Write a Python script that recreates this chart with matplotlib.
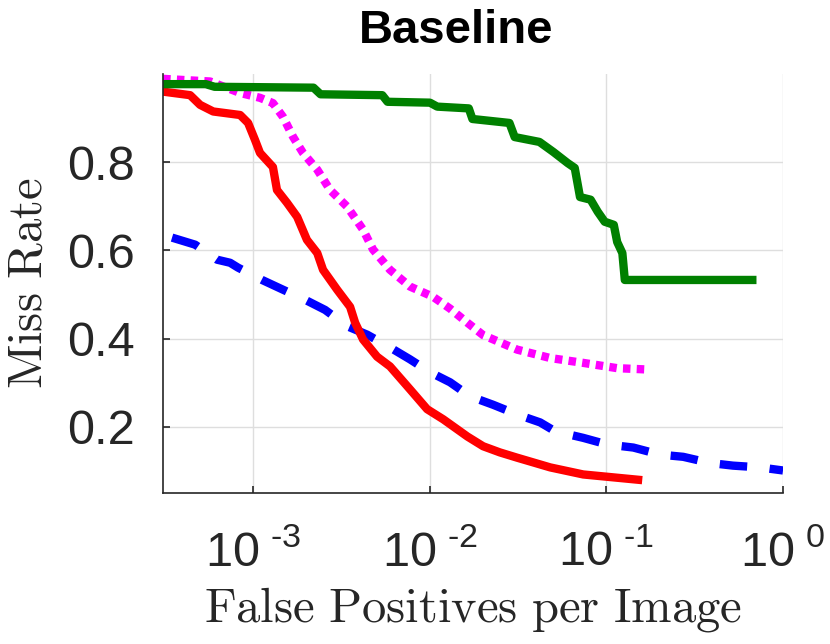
import numpy as np
import matplotlib
matplotlib.use("Agg")
import matplotlib.pyplot as plt
from matplotlib.ticker import FixedLocator, FixedFormatter, NullLocator

plt.rcParams['font.family'] = ['Liberation Sans', 'DejaVu Sans']
plt.rcParams['mathtext.fontset'] = 'custom'
plt.rcParams['mathtext.rm'] = 'Liberation Sans'
plt.rcParams['mathtext.default'] = 'regular'

# curves: (false positives per image, miss rate)
green_fppi = [3.08e-4, 5.37e-4, 6.03e-4, 2.19e-3, 2.40e-3, 5.37e-3, 5.75e-3, 1.00e-2,
              1.10e-2, 1.66e-2, 1.74e-2, 2.40e-2, 2.82e-2, 3.02e-2, 4.17e-2, 5.01e-2,
              6.03e-2, 6.61e-2, 7.08e-2, 8.13e-2, 8.91e-2, 9.77e-2, 1.10e-1, 1.15e-1,
              1.23e-1, 1.27e-1, 6.70e-1]
green_mr = [0.977, 0.977, 0.971, 0.969, 0.954, 0.952, 0.937, 0.935,
            0.926, 0.922, 0.898, 0.892, 0.889, 0.857, 0.846, 0.823,
            0.798, 0.787, 0.721, 0.715, 0.688, 0.665, 0.658, 0.619,
            0.594, 0.533, 0.533]

red_fppi = [3.08e-4, 4.38e-4, 4.99e-4, 5.92e-4, 8.41e-4, 9.33e-4, 1.02e-3, 1.09e-3,
            1.29e-3, 1.36e-3, 1.55e-3, 1.77e-3, 2.01e-3, 2.30e-3, 2.48e-3, 2.98e-3,
            3.53e-3, 3.77e-3, 4.18e-3, 5.02e-3, 5.94e-3, 7.71e-3, 9.64e-3, 1.19e-2,
            1.63e-2, 2.00e-2, 2.49e-2, 3.12e-2, 4.80e-2, 7.38e-2, 1.51e-1]
red_mr = [0.960, 0.952, 0.930, 0.915, 0.907, 0.889, 0.851, 0.821,
          0.789, 0.737, 0.708, 0.676, 0.624, 0.594, 0.556, 0.511,
          0.472, 0.436, 0.398, 0.359, 0.337, 0.285, 0.240, 0.217,
          0.178, 0.156, 0.142, 0.130, 0.108, 0.092, 0.080]

magenta_fppi = [3.08e-4, 5.69e-4, 8.41e-4, 1.09e-3, 1.29e-3, 1.47e-3, 1.68e-3, 1.91e-3,
                2.30e-3, 2.72e-3, 3.40e-3, 4.18e-3, 4.76e-3, 5.94e-3, 7.71e-3, 1.04e-2,
                1.30e-2, 1.63e-2, 2.00e-2, 3.12e-2, 4.80e-2, 7.38e-2, 1.15e-1, 1.70e-1]
magenta_mr = [0.989, 0.983, 0.957, 0.946, 0.934, 0.903, 0.857, 0.821,
              0.783, 0.737, 0.699, 0.647, 0.602, 0.556, 0.518, 0.495,
              0.468, 0.436, 0.408, 0.375, 0.356, 0.345, 0.333, 0.330]

blue_fppi = [3.46e-4, 4.68e-4, 6.22e-4, 7.38e-4, 8.18e-4, 1.12e-3, 1.47e-3, 2.01e-3,
             2.55e-3, 3.40e-3, 4.41e-3, 5.94e-3, 7.71e-3, 1.00e-2, 1.30e-2, 1.69e-2,
             2.28e-2, 3.12e-2, 4.21e-2, 5.11e-2, 7.38e-2, 1.01e-1, 1.42e-1, 2.01e-1,
             2.72e-1, 3.86e-1, 5.21e-1, 7.41e-1, 1.0]
blue_mr = [0.629, 0.613, 0.579, 0.572, 0.561, 0.533, 0.511, 0.486,
           0.465, 0.428, 0.409, 0.380, 0.353, 0.324, 0.301, 0.269,
           0.250, 0.228, 0.210, 0.190, 0.175, 0.160, 0.153, 0.137,
           0.132, 0.118, 0.112, 0.108, 0.101]

x_ticks = [1e-3, 1e-2, 1e-1, 1e0]
x_ticklabels = [r'$10^{\ \text{-}3}$', r'$10^{\ \text{-}2}$', r'$10^{\ \text{-}1}$', r'$10^{\ 0}$']
y_ticks = [0.2, 0.4, 0.6, 0.8]
y_ticklabels = ['0.2', '0.4', '0.6', '0.8']

dark = '#262626'

fig = plt.figure(figsize=(8.3, 6.44), dpi=100)
ax = fig.add_axes([0.1964, 0.2345, 0.747, 0.6506])

lw = 6.0
ax.plot(blue_fppi, blue_mr, color='#0000ff', lw=lw, dashes=(3.3, 2.7))
ax.plot(magenta_fppi, magenta_mr, color='#ff00ff', lw=lw, dashes=(0.9, 0.75))
ax.plot(red_fppi, red_mr, color='#ff0000', lw=lw, solid_joinstyle='round')
ax.plot(green_fppi, green_mr, color='#008000', lw=lw, solid_joinstyle='round')

ax.set_xscale('log')
ax.set_xlim(3.076e-4, 1.0)
ax.set_ylim(0.05, 1.0)

ax.xaxis.set_major_locator(FixedLocator(x_ticks))
ax.xaxis.set_major_formatter(FixedFormatter(x_ticklabels))
ax.xaxis.set_minor_locator(NullLocator())
ax.yaxis.set_major_locator(FixedLocator(y_ticks))
ax.yaxis.set_major_formatter(FixedFormatter(y_ticklabels))

ax.grid(True, color='#dedede', lw=1.0)
ax.set_axisbelow(True)
for side in ['top', 'right']:
    ax.spines[side].set_visible(False)
for side in ['left', 'bottom']:
    ax.spines[side].set_color(dark)
    ax.spines[side].set_linewidth(1.2)

ax.tick_params(direction='in', length=5, width=1.2, colors=dark, labelsize=35)
ax.tick_params(axis='y', pad=20)
ax.tick_params(axis='x', pad=27)

ax.set_xlabel(r'$\mathrm{False\ Positives\ per\ Image}$', fontsize=35, color=dark,
              math_fontfamily='cm', labelpad=6)
ax.set_ylabel(r'$\mathrm{Miss\ Rate}$', fontsize=35, color=dark, math_fontfamily='cm')
ax.yaxis.set_label_coords(-0.18, 0.5)
ax.set_title('Baseline', fontsize=34, fontweight='bold', x=0.473, pad=22)

fig.savefig('out.png', dpi=100)
